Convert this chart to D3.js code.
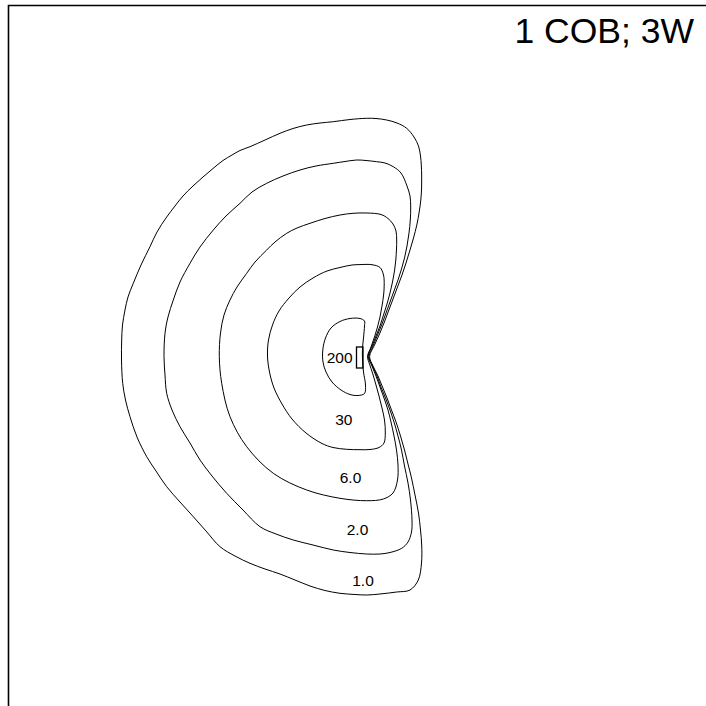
<!DOCTYPE html>
<html>
<head>
<meta charset="utf-8">
<script src="https://cdn.jsdelivr.net/npm/d3@7"></script>
<style>
  html, body { margin: 0; padding: 0; background: #fff; }
  svg { display: block; }
</style>
</head>
<body>
<div id="chart"></div>
<script>
// Plan coordinates (cm, y pointing down), luminaire near (360, 357)
const title = "1 COB; 3W";
const levels = ["200", "30", "6.0", "2.0", "1.0"];

const iso200 = [
  [363.5,338],[364.5,326],[364.5,321],[360,318.5],[350,318.5],[340,321.5],[331,328],[325.5,338],
  [322.8,350],[323,362],[326,372],[332,382],[341,390],[350,394.5],[358,395.5],[364.5,393.5],
  [365.5,385],[363.5,372],[362.5,360],[362.5,348]
];
const iso30 = [
  [367.5,356.5],[371,347],[374.5,337],[377.5,327],[380,317],[382,306],[383.6,295],[384.2,285],
  [383.5,275],[380,267.5],[372,264.7],[360,264.6],[352,265],[340,267.5],[327,271],[313,278],[300,287],
  [289,298],[279,311],[272.5,325],[268.5,340],[267.5,356],[269.5,372],[274,388],[282,404],[292,419],
  [306,433],[322,443.5],[333,447.5],[346.7,449.3],[360,449.7],[370,449.5],[379,447.5],[384,443],
  [385.3,433],[384.5,420],[382,408],[379,396],[376,385],[372.5,373],[369.5,364]
];
const iso6 = [
  [368.2,356.5],[372,346],[376,336],[380,326],[383.5,315],[387,304],[390,293],[392.5,282],[394.5,271],
  [395.8,260],[396.5,249],[396.7,240],[396,231],[393,224],[388,218.5],[381,214.5],[367,213],[353,213.3],
  [340,215],[325,218.5],[310,223.3],[297,228],[286.7,233.3],[275,242],[266.7,250],[255,262],[246.7,273.3],
  [237,287],[230,300],[224,315],[220.5,333],[219.3,356.7],[221.7,383.3],[230,416.7],[246.7,446.7],
  [273.3,473.3],[306.7,490],[340,498.3],[366.7,500.7],[383.3,499],[393,493],[397.5,480],[398,465],
  [396.5,450],[394,436],[391,422],[388,410],[384,398],[380,387],[376,376],[372,366]
];
const iso2 = [
  [368.9,356.5],[373,346],[377.5,335],[382,324],[386,313],[390,302],[394,291],[398,280],[401.5,269],
  [404.5,258],[407,246],[409,233],[410.3,220],[410.7,207],[410,196],[407,186],[401,173],[393.3,166.7],
  [385,163],[376.7,161.7],[366,160.5],[356.7,160],[345,161.5],[333.3,163.3],[316,166],[300,170],[283,176],
  [266.7,183.3],[252,192],[240,203.3],[226,216],[213.3,230],[200,247],[190,263.3],[180,282],[173.3,300],
  [168,317],[165,333.3],[164,356.7],[165,375],[166.7,393.3],[172,410],[180,426.7],[190,443],[200,460],
  [212,476],[226.7,493.3],[243,510],[260,526.7],[276,534],[293.3,540],[313,545],[333.3,550],[350,552.5],
  [366.7,554],[380,554],[390,552.5],[401.7,548.3],[408,542],[411.5,532],[412,520],[410.5,500],[408,483],
  [404.5,466],[401.5,450],[398,436],[394,422],[390,410],[385.5,398],[381,387],[377,376],[372.5,366]
];
const iso1 = [
  [369.6,356.5],[374.5,345],[379.5,334],[384,323],[388.5,311],[393,299],[397.5,287],[402,275],[406,263],
  [410,250],[413.5,238],[416.8,225],[419.2,212],[420.8,200],[421.6,188],[421.7,176],[421.3,165],
  [420.5,156],[418.5,146],[414,137],[406.7,128.3],[397,123],[386.7,120],[376,118.5],[366.7,118.3],
  [350,119.5],[333.3,121.7],[320,123],[306.7,125],[293,128.5],[280,133.3],[265,140],[250,146.7],
  [240,150.5],[232,155],[223,160.5],[213,168.5],[203,177],[193,186],[183,196],[175,206],[166.7,217],
  [157,232],[150,246.7],[141,265],[133.3,283.3],[128,297],[125,310],[122.5,325],[121.7,340],[121.5,360],
  [122.7,383.3],[125.5,400],[130,416.7],[137,437],[146.7,456.7],[156,471],[166.7,486.7],[180,502],
  [193.3,516.7],[206,531],[220,546.7],[235,556],[250,563.3],[265,569],[280,574],[295,580],[310,586],
  [325,590.5],[340,593.3],[355,594.5],[366.7,595],[380,594],[396.7,592],[410,590],[418.3,580],[421.5,563],
  [421.7,545],[420.5,530],[418.5,513],[415,495],[411.5,478],[408,464],[404.5,450],[400.5,436],[396,422],
  [391.5,410],[387,398],[382.5,387],[378,376],[373,366]
];
const isolines = [iso200, iso30, iso6, iso2, iso1];
// label anchor points (centre x, baseline y)
const labelX = [339.7, 343.8, 350.5, 357.5, 363];
const labelY = [363.3, 425, 482.7, 535, 586];
// luminaire footprint [x0, y0, x1, y1]
const luminaire = [356.5, 347, 363, 368];
// plan frame origin
const frame = [8.5, 5.5];

const W = 706, H = 706;
const x = d3.scaleLinear().domain([0, 706]).range([0, W]);
const y = d3.scaleLinear().domain([0, 706]).range([0, H]);

const svg = d3.select("#chart").append("svg")
  .attr("width", W).attr("height", H)
  .attr("viewBox", `0 0 ${W} ${H}`);

svg.append("rect").attr("width", W).attr("height", H).attr("fill", "#fff");

// frame (left and top edges visible)
svg.append("path")
  .attr("d", `M${x(frame[0])},${H + 2}V${y(frame[1])}H${W + 2}`)
  .attr("fill", "none").attr("stroke", "#000").attr("stroke-width", 1.6);

const line = d3.line()
  .x(d => x(d[0])).y(d => y(d[1]))
  .curve(d3.curveCatmullRomClosed.alpha(0.5));

svg.append("g").selectAll("path")
  .data(isolines)
  .join("path")
  .attr("d", line)
  .attr("fill", "none")
  .attr("stroke", "#000")
  .attr("stroke-width", 1);

svg.append("rect")
  .attr("x", x(luminaire[0])).attr("y", y(luminaire[1]))
  .attr("width", x(luminaire[2]) - x(luminaire[0]))
  .attr("height", y(luminaire[3]) - y(luminaire[1]))
  .attr("fill", "none").attr("stroke", "#000").attr("stroke-width", 1.3);

svg.append("g").selectAll("text")
  .data(levels)
  .join("text")
  .attr("x", (d, i) => x(labelX[i]))
  .attr("y", (d, i) => y(labelY[i]))
  .attr("text-anchor", "middle")
  .attr("font-family", "Liberation Sans, Arial, sans-serif")
  .attr("font-size", 15.5)
  .attr("fill", "#000")
  .text(d => d);

svg.append("text")
  .attr("x", 694).attr("y", 42.5)
  .attr("text-anchor", "end")
  .attr("font-family", "Liberation Sans, Arial, sans-serif")
  .attr("font-size", 35.5)
  .attr("fill", "#000")
  .text(title);
</script>
</body>
</html>
